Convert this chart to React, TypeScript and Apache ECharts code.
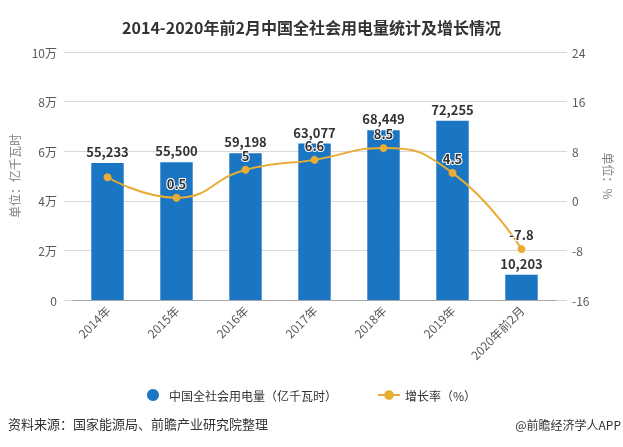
import React, { useEffect, useRef } from "react";
import * as echarts from "echarts";

const categories = ["2014年", "2015年", "2016年", "2017年", "2018年", "2019年", "2020年前2月"];
const consumption = [55233, 55500, 59198, 63077, 68449, 72255, 10203];
const growth = [3.8, 0.5, 5, 6.6, 8.5, 4.5, -7.8];
const hiddenGrowthLabels = [0];
const leftTicks = [0, 20000, 40000, 60000, 80000, 100000];
const rightTicks = [-16, -8, 0, 8, 16, 24];

const BAR_NAME = "中国全社会用电量（亿千瓦时）";
const LINE_NAME = "增长率（%）";
const FONT = "'Noto Sans CJK SC', 'Noto Sans', sans-serif";

export default function App() {
  const ref = useRef<HTMLDivElement>(null);
  useEffect(() => {
    if (!ref.current) return;
    const chart = echarts.init(ref.current, undefined, { renderer: "svg" });
    const grid0 = { left: 64, right: 55, top: 52, bottom: 147 };
    const grid1 = { left: 73, right: 67, top: 52, bottom: 147 };
    chart.setOption({
      animation: false,
      textStyle: { fontFamily: FONT },
      title: {
        text: "2014-2020年前2月中国全社会用电量统计及增长情况",
        left: "center",
        top: 14,
        textStyle: { fontSize: 16, fontWeight: "bold", color: "#333", fontFamily: FONT },
      },
      legend: {
        top: 384,
        left: "center",
        itemGap: 40,
        itemWidth: 22,
        itemHeight: 12,
        textStyle: { fontSize: 12, color: "#333", fontFamily: FONT },
        data: [{ name: BAR_NAME, icon: "circle" }, { name: LINE_NAME }],
      },
      grid: [grid0, grid1],
      xAxis: [
        { type: "value", gridIndex: 0, show: false, min: 0, max: 1 },
        {
          type: "category",
          gridIndex: 1,
          data: categories,
          axisTick: { alignWithLabel: true, length: 5, lineStyle: { color: "#a6a6a6" } },
          axisLine: { lineStyle: { color: "#a6a6a6" } },
          axisLabel: { rotate: 45, fontSize: 12, color: "#595959", margin: 8 },
        },
      ],
      yAxis: [
        {
          type: "value",
          gridIndex: 0,
          min: leftTicks[0],
          max: leftTicks[leftTicks.length - 1],
          interval: 20000,
          name: "单位：亿千瓦时",
          nameLocation: "middle",
          nameGap: 44,
          nameTextStyle: { fontSize: 12, color: "#7f7f7f" },
          axisLine: { show: false },
          axisTick: { show: false },
          axisLabel: {
            fontSize: 12,
            color: "#595959",
            margin: 7,
            formatter: (v: number) => (v === 0 ? "0" : v / 10000 + "万"),
          },
          splitLine: { lineStyle: { color: "#d9d9d9" } },
        },
        {
          type: "value",
          gridIndex: 0,
          position: "right",
          min: rightTicks[0],
          max: rightTicks[rightTicks.length - 1],
          interval: 8,
          name: "单位：%",
          nameLocation: "middle",
          nameRotate: -90,
          nameGap: 36,
          nameTextStyle: { fontSize: 12, color: "#7f7f7f" },
          axisLine: { show: false },
          axisTick: { show: false },
          axisLabel: { fontSize: 12, color: "#595959", margin: 5 },
          splitLine: { show: false },
        },
        { type: "value", gridIndex: 1, show: false, min: 0, max: 100000, splitLine: { show: false } },
        { type: "value", gridIndex: 1, show: false, min: -16, max: 24, splitLine: { show: false } },
      ],
      series: [
        {
          name: BAR_NAME,
          type: "bar",
          xAxisIndex: 1,
          yAxisIndex: 2,
          data: consumption,
          barWidth: "47%",
          itemStyle: { color: "#1a75c2" },
          label: {
            show: true,
            position: "top",
            distance: 5,
            fontSize: 13,
            fontWeight: "bold",
            color: "#333",
            formatter: (p: any) => Number(p.value).toLocaleString("en-US"),
          },
        },
        {
          name: LINE_NAME,
          type: "line",
          xAxisIndex: 1,
          yAxisIndex: 3,
          smooth: true,
          symbol: "circle",
          symbolSize: 8,
          z: 5,
          data: growth.map((v, i) =>
            hiddenGrowthLabels.includes(i) ? { value: v, label: { show: false } } : v
          ),
          lineStyle: { color: "#e9ac35", width: 2 },
          itemStyle: { color: "#e9ac35" },
          label: {
            show: true,
            position: "top",
            distance: 4,
            fontSize: 13,
            fontWeight: "bold",
            color: "#333",
            textBorderColor: "#fff",
            textBorderWidth: 2,
          },
        },
      ],
      graphic: [
        {
          type: "text",
          left: 8,
          top: 417,
          style: { text: "资料来源：国家能源局、前瞻产业研究院整理", fontSize: 13, fill: "#333", fontFamily: FONT },
        },
        {
          type: "text",
          right: 2,
          top: 418,
          style: { text: "@前瞻经济学人APP", fontSize: 12, fill: "#333", fontFamily: FONT },
        },
      ],
    });
    return () => chart.dispose();
  }, []);
  return (
    <div
      ref={ref}
      style={{ position: "fixed", left: 0, top: 0, width: 623, height: 447 }}
    />
  );
}
